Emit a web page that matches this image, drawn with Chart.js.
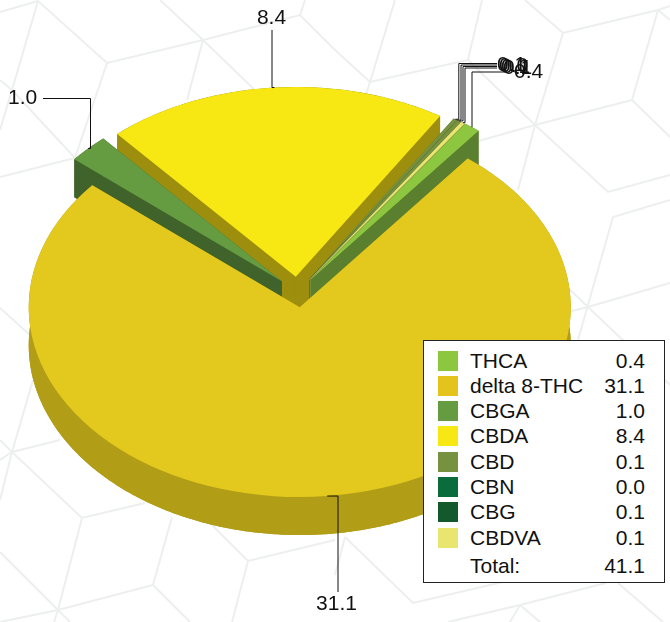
<!DOCTYPE html>
<html>
<head>
<meta charset="utf-8">
<title>Cannabinoids</title>
<script src="https://cdn.jsdelivr.net/npm/chart.js@4/dist/chart.umd.min.js"></script>
<style>
    html, body { margin: 0; padding: 0; background: #fff; }
    #wrap { position: relative; width: 670px; height: 622px; overflow: hidden; font-family: "Liberation Sans", Arial, sans-serif; color: #111; }
    #pie { position: absolute; left: 0; top: 0; }
    #legendBox { position: absolute; left: 423px; top: 339.5px; width: 242px; height: 243px; box-sizing: border-box; background: #fff; border: 1px solid #222; font-size: 21px; }
    .legend-row { position: absolute; left: 0; right: 0; height: 25px; line-height: 25px; }
    .legend-dot { position: absolute; left: 14px; top: 2px; width: 20px; height: 20px; }
    .legend-name { position: absolute; left: 46px; top: -1px; }
    .legend-val { position: absolute; right: 19px; top: -1px; }
</style>
</head>
<body>
<div id="wrap">
    <canvas id="pie" width="670" height="622"></canvas>
    <div id="legendBox"></div>
</div>
<script>
const categories = ['THCA', 'delta 8-THC', 'CBGA', 'CBDA', 'CBD', 'CBN', 'CBG', 'CBDVA'];
const values = [0.4, 31.1, 1.0, 8.4, 0.1, 0.0, 0.1, 0.1];
const valueLabels = ['0.4', '31.1', '1.0', '8.4', '0.1', '0.0', '0.1', '0.1'];
const totalLabel = '41.1';
const legendColors = ['#8dc63f', '#e4c41c', '#659c42', '#f7e814', '#76913f', '#0a6b3b', '#14582d', '#e9e570'];
// the CBG sliver reads as olive in the pie, not its dark legend green
const sliceColors = ['#8dc63f', '#e3c81e', '#659c42', '#f7e814', '#76913f', '#0a6b3b', '#76913f', '#e9e570'];
const sideColors = ['#5a7f2e', '#b29d17', '#40632b', '#9d8f0d', '#566b2e', '#074d2b', '#566b2e', '#a8a550'];

// back to front: CBDA sits behind its neighbours, the big slice covers everything
const drawOrder = [3, 2, 4, 5, 6, 7, 0, 1];

const tilt = 0.70;
const explode = 22;
const depth = 38;

// lineX, elbowY, endX, textX, textY, align
const leaders = [
    [472, 72, 506, 514, 72.5, 'left'],
    [338, 592, 338, 336.5, 604, 'center'],
    [90.5, 98.5, 43, 8, 98.5, 'left'],
    [272, 30, 272, 271.5, 18.5, 'center'],
    [458.8, 63.5, 497, 497, 65, 'left'],
    [461, 65, 497, 499, 66, 'left'],
    [463, 66.5, 497, 501, 67, 'left'],
    [465, 68, 497, 503, 68, 'left']
];

// faint cube pattern behind the chart
const bgLines = [
    [[0, 12], [38, 1], [107, 63], [203, 40], [300, 15], [335, 50], [370, 82], [468, 60], [482, 0]],
    [[38, 1], [12, 90], [0, 130]], [[0, 80], [12, 90], [75, 158], [0, 177]], [[107, 63], [75, 158]],
    [[160, 0], [203, 40], [260, 95]], [[203, 40], [187, 100]], [[300, 15], [305, 0]],
    [[395, 0], [370, 82], [350, 145]], [[468, 60], [535, 125], [608, 192], [670, 175]],
    [[525, 0], [563, 33], [658, 10], [670, 6]], [[563, 33], [535, 125], [475, 142]], [[535, 125], [518, 190]],
    [[658, 10], [670, 20]], [[658, 10], [632, 100], [670, 137]], [[632, 100], [535, 125]],
    [[670, 200], [613, 217], [578, 340]], [[670, 283], [588, 307], [568, 312]], [[565, 285], [588, 307], [670, 385]],
    [[0, 308], [30, 335]], [[0, 460], [12, 452], [60, 440]], [[33, 380], [12, 452], [0, 500]], [[0, 440], [12, 452], [82, 518], [145, 503]],
    [[82, 518], [58, 610], [54, 622]], [[0, 552], [58, 610], [70, 622]], [[0, 622], [58, 610], [153, 585], [172, 517]], [[153, 585], [190, 622]],
    [[212, 525], [248, 561], [335, 540]], [[248, 561], [232, 622]],
    [[345, 537], [413, 603], [520, 578]], [[345, 537], [335, 575]], [[448, 622], [520, 605], [606, 583]], [[520, 605], [510, 622]], [[520, 605], [540, 622]], [[618, 583], [663, 622]]
];

function explodeOffset(el) {
    const mid = (el.startAngle + el.endAngle) / 2;
    return { x: Math.cos(mid) * explode, y: Math.sin(mid) * explode };
}

function facePoint(el, angle, r, down) {
    const off = explodeOffset(el);
    return {
        x: el.x + off.x + Math.cos(angle) * r,
        y: el.y + tilt * off.y + down + tilt * Math.sin(angle) * r
    };
}

function rimPoints(el, down) {
    const pts = [];
    const steps = Math.max(2, Math.ceil(el.circumference / 0.01));
    for (let s = 0; s <= steps; s++) {
        pts.push(facePoint(el, el.startAngle + el.circumference * s / steps, el.outerRadius, down));
    }
    return pts;
}

function fillPoly(ctx, pts) {
    ctx.beginPath();
    pts.forEach((p, i) => i ? ctx.lineTo(p.x, p.y) : ctx.moveTo(p.x, p.y));
    ctx.closePath();
    ctx.fill();
}

function drawSide(ctx, el, i) {
    const top = rimPoints(el, 0);
    const bottom = rimPoints(el, depth);
    const apexTop = facePoint(el, 0, 0, 0);
    const apexBottom = facePoint(el, 0, 0, depth);
    ctx.fillStyle = sideColors[i];
    fillPoly(ctx, [apexBottom].concat(bottom));
    fillPoly(ctx, top.concat(bottom.slice().reverse()));
    fillPoly(ctx, [apexTop, top[0], bottom[0], apexBottom]);
    fillPoly(ctx, [apexTop, top[top.length - 1], bottom[bottom.length - 1], apexBottom]);
}

const backgroundPlugin = {
    id: 'cubeBackground',
    beforeDraw(chart) {
        const ctx = chart.ctx;
        ctx.save();
        ctx.strokeStyle = '#edefef';
        ctx.lineWidth = 2;
        bgLines.forEach(line => {
            ctx.beginPath();
            line.forEach((p, i) => i ? ctx.lineTo(p[0], p[1]) : ctx.moveTo(p[0], p[1]));
            ctx.stroke();
        });
        ctx.restore();
    }
};

const tiltedPiePlugin = {
    id: 'tiltedPie',
    beforeDatasetsDraw(chart) {
        const ctx = chart.ctx;
        const arcs = chart.getDatasetMeta(0).data;

        drawOrder.forEach(i => {
            const el = arcs[i];
            if (el.circumference === 0) return;
            drawSide(ctx, el, i);
            const off = explodeOffset(el);
            ctx.save();
            ctx.translate(off.x, el.y + tilt * off.y);
            ctx.scale(1, tilt);
            ctx.translate(0, -el.y);
            el.draw(ctx);
            ctx.restore();
        });

        ctx.save();
        ctx.strokeStyle = '#111';
        ctx.fillStyle = '#111';
        ctx.lineWidth = 1;
        ctx.font = '21px "Liberation Sans", Arial, sans-serif';
        ctx.textBaseline = 'middle';
        leaders.forEach((l, i) => {
            const el = arcs[i];
            const mid = (el.startAngle + el.endAngle) / 2;
            const rim = facePoint(el, mid, el.outerRadius, 0);
            ctx.beginPath();
            ctx.moveTo(rim.x, rim.y);
            ctx.lineTo(l[0], rim.y);
            ctx.lineTo(l[0], l[1]);
            ctx.lineTo(l[2], l[1]);
            ctx.stroke();
            ctx.textAlign = l[5];
            ctx.fillText(valueLabels[i], l[3], l[4]);
        });
        ctx.restore();

        return false;
    }
};

new Chart(document.getElementById('pie').getContext('2d'), {
    type: 'doughnut',
    data: {
        labels: categories,
        datasets: [{
            data: values,
            backgroundColor: sliceColors,
            borderWidth: 0,
            offset: 0
        }]
    },
    options: {
        responsive: false,
        animation: false,
        events: [],
        cutout: 0,
        radius: 271,
        rotation: 34.8,
        layout: { padding: { right: 75, bottom: 38 } },
        plugins: {
            legend: { display: false },
            tooltip: { enabled: false }
        }
    },
    plugins: [backgroundPlugin, tiltedPiePlugin]
});

const legendContainer = document.getElementById('legendBox');
const rows = categories.map((name, i) => `
    <div class="legend-row" style="top: ${8 + i * 25.3}px">
        <div class="legend-dot" style="background: ${legendColors[i]}"></div>
        <span class="legend-name">${name}</span>
        <span class="legend-val">${valueLabels[i]}</span>
    </div>
`);
rows.push(`
    <div class="legend-row" style="top: 213.5px">
        <span class="legend-name">Total:</span>
        <span class="legend-val">${totalLabel}</span>
    </div>
`);
legendContainer.innerHTML = rows.join('');
</script>
</body>
</html>
